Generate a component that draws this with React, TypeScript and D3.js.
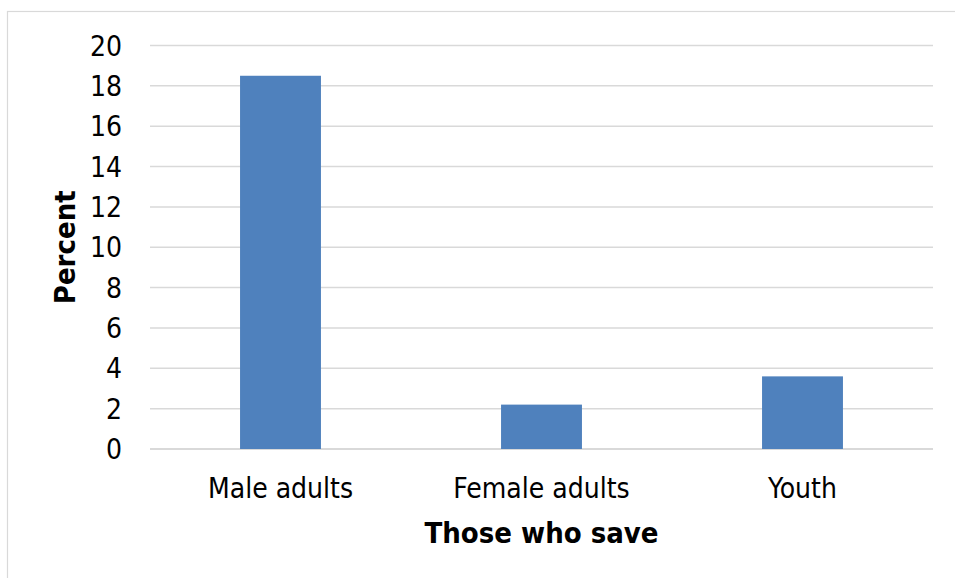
import React from "react";
import * as d3 from "d3";

const categories = ["Male adults", "Female adults", "Youth"];
const values = [18.5, 2.2, 3.6];
const yTicks = [0, 2, 4, 6, 8, 10, 12, 14, 16, 18, 20];
const xTitle = "Those who save";
const yTitle = "Percent";

export default function App() {
  const W = 955, H = 578;
  const left = 150, right = 933, top = 45.5, bottom = 449;
  const x = d3.scaleBand<string>().domain(categories).range([left, right]).paddingInner(0.69).paddingOuter(0.345);
  const y = d3.scaleLinear().domain([0, 20]).range([bottom, top]);
  const font = "'DejaVu Sans Condensed', 'DejaVu Sans', sans-serif";
  return (
    <svg width={W} height={H} style={{ position: "absolute", left: 0, top: 0 }} fontFamily={font}>
      <rect x={0} y={0} width={W} height={H} fill="#fff" />
      <rect x={7.5} y={11.5} width={W + 10} height={H + 10} fill="none" stroke="#d9d9d9" strokeWidth={1.2} />
      {yTicks.map((t) => (
        <g key={t}>
          <line x1={left} x2={right} y1={y(t)} y2={y(t)} stroke="#d9d9d9" strokeWidth={t === 0 ? 2 : 1.5} />
          <text x={122} y={y(t)} dy="0.36em" textAnchor="end" fontSize={28} fill="#000">{t}</text>
        </g>
      ))}
      {categories.map((c, i) => (
        <g key={c}>
          <rect x={x(c)} y={y(values[i])} width={x.bandwidth()} height={y(0) - y(values[i])} fill="#4f81bd" />
          <text x={(x(c) as number) + x.bandwidth() / 2} y={498} textAnchor="middle" fontSize={28} fill="#000">{c}</text>
        </g>
      ))}
      <text x={(left + right) / 2} y={543} textAnchor="middle" fontSize={29} fontWeight="bold" fill="#000">{xTitle}</text>
      <text transform={`translate(75, ${(top + bottom) / 2}) rotate(-90)`} textAnchor="middle" fontSize={29} fontWeight="bold" fill="#000">{yTitle}</text>
    </svg>
  );
}
